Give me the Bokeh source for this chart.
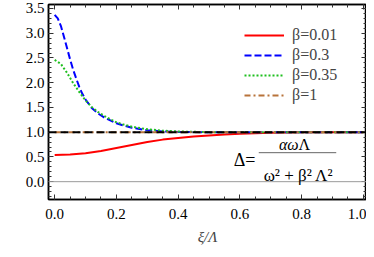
from bokeh.plotting import figure
from bokeh.models import (Legend, LegendItem, Span, Label, LinearAxis,
                          SingleIntervalTicker, PrintfTickFormatter, CustomLabelingPolicy)
from bokeh.embed import file_html
from bokeh.resources import INLINE

# ---- data ----
x_red = [0, 0.05, 0.1, 0.15, 0.2, 0.25, 0.3, 0.35, 0.4, 0.45, 0.5, 0.55, 0.6, 0.65, 0.7, 0.8, 0.9, 1.0]
y_red = [0.54, 0.55, 0.575, 0.62, 0.68, 0.74, 0.80, 0.85, 0.885, 0.915, 0.935, 0.955, 0.97, 0.98, 0.99, 0.997, 1.0, 1.0]

x_blue = [0, 0.01, 0.02, 0.03, 0.04, 0.05, 0.06, 0.07, 0.08, 0.09, 0.1, 0.12, 0.14, 0.16, 0.18, 0.2, 0.22, 0.25, 0.3, 0.35, 0.4, 0.5, 0.6, 0.8, 1.0]
y_blue = [3.37, 3.30, 3.15, 2.93, 2.70, 2.47, 2.26, 2.08, 1.91, 1.77, 1.66, 1.49, 1.38, 1.30, 1.24, 1.18, 1.14, 1.09, 1.04, 1.015, 1.005, 1.0, 1.0, 1.0, 1.0]

x_green = [0, 0.02, 0.04, 0.06, 0.08, 0.1, 0.12, 0.14, 0.16, 0.18, 0.2, 0.22, 0.25, 0.3, 0.35, 0.4, 0.5, 0.6, 0.8, 1.0]
y_green = [2.46, 2.38, 2.20, 1.99, 1.81, 1.64, 1.51, 1.41, 1.33, 1.26, 1.20, 1.16, 1.11, 1.06, 1.03, 1.015, 1.0, 1.0, 1.0, 1.0]

x_brown = [0, 1.0]
y_brown = [1.0, 1.0]

labels = ["β=0.01", "β=0.3", "β=0.35", "β=1"]
ref_level = 1.0
zero_level = 0.0

FONT = "Liberation Serif, serif"

p = figure(width=366, height=249, x_range=(-0.02, 1.01), y_range=(-0.36, 3.58),
           output_backend="svg", toolbar_location=None,
           min_border_left=48, min_border_right=0, min_border_top=4, min_border_bottom=50)
p.grid.visible = False
p.outline_line_color = "black"
p.outline_line_width = 1.5
p.background_fill_color = "white"
p.border_fill_color = "white"

xt = SingleIntervalTicker(interval=0.2, num_minor_ticks=4)
yt = SingleIntervalTicker(interval=0.5, num_minor_ticks=5)
p.xaxis.ticker = xt
p.yaxis.ticker = yt
p.xaxis.formatter = PrintfTickFormatter(format="%.1f")
p.yaxis.formatter = PrintfTickFormatter(format="%.1f")

for ax in (p.xaxis[0], p.yaxis[0]):
    ax.major_tick_in = 5
    ax.major_tick_out = 0
    ax.minor_tick_in = 3
    ax.minor_tick_out = 0
    ax.axis_line_width = 1.5
    ax.axis_line_color = "black"
    ax.major_tick_line_color = "#333333"
    ax.minor_tick_line_color = "#333333"
    ax.major_label_text_font = FONT
    ax.major_label_text_font_size = "15px"
    ax.major_label_text_color = "black"
p.xaxis.major_label_standoff = 9
p.yaxis.major_label_standoff = 4
p.xaxis.axis_label = "ξ/Λ"
p.xaxis.axis_label_text_font = FONT
p.xaxis.axis_label_text_font_style = "italic"
p.xaxis.axis_label_text_font_size = "15px"
p.xaxis.axis_label_standoff = 7

hide_all = CustomLabelingPolicy(code="""
try { return new indices.constructor(indices.size, 0) } catch (e) { return indices }
""")
for loc, tk in (("above", xt), ("right", yt)):
    ax = LinearAxis(ticker=tk, major_tick_in=5, major_tick_out=0, minor_tick_in=3, minor_tick_out=0,
                    major_label_text_font_size="0px", major_label_standoff=0,
                    major_label_policy=hide_all,
                    axis_line_color="black", axis_line_width=1.5,
                    major_tick_line_color="#333333", minor_tick_line_color="#333333")
    p.add_layout(ax, loc)

p.add_layout(Span(location=zero_level, dimension="width", line_color="#9a9a9a", line_width=1))

r1 = p.line(x_red, y_red, line_color="#ff0000", line_width=2)
r2 = p.line(x_blue, y_blue, line_color="#0000ff", line_width=2, line_dash="7 3")
r3 = p.line(x_green, y_green, line_color="#1fbf1f", line_width=2, line_dash="2 2")
r4 = p.line(x_brown, y_brown, line_color="#b8733a", line_width=2, line_dash="6 3 2 3")

p.add_layout(Span(location=ref_level, dimension="width", line_color="black", line_width=2, line_dash="8 4"))

legend = Legend(items=[LegendItem(label=l, renderers=[r]) for l, r in zip(labels, [r1, r2, r3, r4])],
                location=(196, 95), border_line_alpha=0, background_fill_alpha=0,
                label_text_font=FONT, label_text_font_size="16px",
                glyph_width=40, glyph_height=16, label_height=16, spacing=2,
                padding=0, margin=0, label_standoff=8)
p.add_layout(legend)

# formula annotation
lab_kw = dict(text_font=FONT, text_color="black", text_baseline="middle")
p.add_layout(Label(x=0.65, y=0.43, text="Δ=", text_align="right", text_font_size="18px", **lab_kw))
p.add_layout(Label(x=0.79, y=0.76, text="αω", text_align="right", text_font_size="16px",
                   text_font_style="italic", **lab_kw))
p.add_layout(Label(x=0.79, y=0.76, text="Λ", text_align="left", text_font_size="16px", **lab_kw))
p.segment(x0=[0.661], y0=[0.586], x1=[0.912], y1=[0.586], line_color="#666666", line_width=1)
p.add_layout(Label(x=0.79, y=0.12, text="ω² + β² Λ²", text_align="center", text_font_size="17px", **lab_kw))

# y axis label I_Λ
p.add_layout(Label(x=-0.175, y=1.4, text="I", text_align="left", text_font_size="17px", **lab_kw))
p.add_layout(Label(x=-0.155, y=1.27, text="Λ", text_align="left", text_font_size="11px", **lab_kw))

open("out.html", "w").write(file_html(p, INLINE))
